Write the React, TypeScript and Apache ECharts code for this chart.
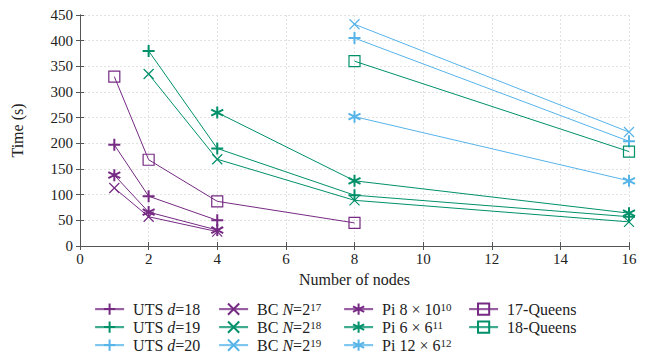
import React, { useEffect, useRef } from "react";
import * as echarts from "echarts";

const PURPLE = "#762a83";
const GREEN = "#00906a";
const BLUE = "#56b4e9";

const xTicks = [0, 2, 4, 6, 8, 10, 12, 14, 16];
const yTicks = [0, 50, 100, 150, 200, 250, 300, 350, 400, 450];

const utsD18Nodes = [1, 2, 4];
const utsD18Time = [197, 97, 50];
const utsD19Nodes = [2, 4, 8, 16];
const utsD19Time = [380, 190, 99, 57];
const utsD20Nodes = [8, 16];
const utsD20Time = [405, 204];

const bc17Nodes = [1, 2, 4];
const bc17Time = [113, 57, 28];
const bc18Nodes = [2, 4, 8, 16];
const bc18Time = [335, 169, 89, 47];
const bc19Nodes = [8, 16];
const bc19Time = [432, 222];

const pi8Nodes = [1, 2, 4];
const pi8Time = [138, 66, 31];
const pi6Nodes = [4, 8, 16];
const pi6Time = [260, 127, 64];
const pi12Nodes = [8, 16];
const pi12Time = [252, 127];

const q17Nodes = [1, 2, 4, 8];
const q17Time = [330, 168, 87, 45];
const q18Nodes = [8, 16];
const q18Time = [360, 184];

const PLUS = "path://M5,0L5,10M0,5L10,5";
const CROSS = "path://M0,0L10,10M0,10L10,0";
const STAR = "path://M5,0L5,10M0.67,2.5L9.33,7.5M0.67,7.5L9.33,2.5";
const SQUARE = "path://M0,0L10,0L10,10L0,10Z";

const FONT = "Liberation Serif";

const legendLabels: Record<string, string> = {
  "UTS d=18": "UTS {i|d}=18",
  "UTS d=19": "UTS {i|d}=19",
  "UTS d=20": "UTS {i|d}=20",
  "BC N=2^17": "BC {i|N}=2{sup|17}",
  "BC N=2^18": "BC {i|N}=2{sup|18}",
  "BC N=2^19": "BC {i|N}=2{sup|19}",
  "Pi 8x10^10": "Pi 8 × 10{sup|10}",
  "Pi 6x6^11": "Pi 6 × 6{sup|11}",
  "Pi 12x6^12": "Pi 12 × 6{sup|12}",
  "17-Queens": "17-Queens",
  "18-Queens": "18-Queens",
};

const legendColumns = [
  ["UTS d=18", "UTS d=19", "UTS d=20"],
  ["BC N=2^17", "BC N=2^18", "BC N=2^19"],
  ["Pi 8x10^10", "Pi 6x6^11", "Pi 12x6^12"],
  ["17-Queens", "18-Queens"],
];

function mk(name: string, nodes: number[], times: number[], color: string, symbol: string, size: number, bw: number) {
  return {
    name,
    type: "line",
    data: nodes.map((n, i) => [n, times[i]]),
    symbol,
    symbolSize: size,
    showAllSymbol: true,
    lineStyle: { color, width: 1 },
    itemStyle: { color: "none", borderColor: color, borderWidth: bw },
    emphasis: { disabled: true },
    z: 3,
  };
}

export default function App() {
  const ref = useRef<HTMLDivElement>(null);
  useEffect(() => {
    if (!ref.current) return;
    const chart = echarts.init(ref.current, null, { renderer: "svg" });
    const colLeft = [94, 218, 343, 468];
    const rowTop = [301, 319, 337];
    const legends: any[] = [];
    legendColumns.forEach((col, ci) => {
      col.forEach((name, ri) => {
        legends.push({
          orient: "horizontal",
          left: colLeft[ci],
          top: rowTop[ri],
          padding: 0,
          itemWidth: 29,
          itemHeight: 14,
          selectedMode: false,
          lineStyle: { width: 2.2, opacity: 0.75 },
          data: [name],
          formatter: (n: string) => legendLabels[n] ?? n,
          textStyle: {
            fontFamily: FONT,
            fontSize: 16,
            color: "#222",
            padding: [0, 0, 0, 4],
            rich: {
              i: { fontFamily: FONT, fontSize: 16, fontStyle: "italic", color: "#222" },
              sup: { fontFamily: FONT, fontSize: 11, color: "#222", verticalAlign: "top", lineHeight: 8 },
            },
          },
        });
      });
    });
    const axisLineStyle = { color: "#555", width: 1 };
    chart.setOption({
      animation: false,
      backgroundColor: "#fff",
      grid: { left: 80, right: 17, top: 15, bottom: 111, containLabel: false },
      legend: legends,
      xAxis: [
        {
          type: "value",
          min: 0,
          max: 16,
          interval: 2,
          name: "Number of nodes",
          nameLocation: "middle",
          nameGap: 25,
          nameTextStyle: { fontFamily: FONT, fontSize: 16, color: "#222" },
          axisLine: { show: true, lineStyle: axisLineStyle },
          axisTick: { show: true, inside: true, length: 4, lineStyle: axisLineStyle },
          axisLabel: { fontFamily: FONT, fontSize: 15, color: "#222", margin: 5 },
          splitLine: { show: true, lineStyle: { color: "#e2e2e2", type: [2, 2] } },
        },
        {
          type: "value",
          position: "top",
          min: 0,
          max: 16,
          interval: 2,
          axisLine: { show: true, lineStyle: axisLineStyle },
          axisTick: { show: true, inside: true, length: 4, lineStyle: axisLineStyle },
          axisLabel: { show: false },
          splitLine: { show: false },
        },
      ],
      yAxis: [
        {
          type: "value",
          min: 0,
          max: 450,
          interval: 50,
          name: "Time (s)",
          nameLocation: "middle",
          nameGap: 55,
          nameRotate: 90,
          nameTextStyle: { fontFamily: FONT, fontSize: 16, color: "#222" },
          axisLine: { show: true, lineStyle: axisLineStyle },
          axisTick: { show: true, inside: true, length: 4, lineStyle: axisLineStyle },
          axisLabel: { fontFamily: FONT, fontSize: 15, color: "#222", margin: 7 },
          splitLine: { show: true, lineStyle: { color: "#e2e2e2", type: [2, 2] } },
        },
        {
          type: "value",
          position: "right",
          min: 0,
          max: 450,
          interval: 50,
          axisLine: { show: true, lineStyle: axisLineStyle },
          axisTick: { show: true, inside: true, length: 4, lineStyle: axisLineStyle },
          axisLabel: { show: false },
          splitLine: { show: false },
        },
      ],
      series: [
        mk("UTS d=18", utsD18Nodes, utsD18Time, PURPLE, PLUS, 12, 2),
        mk("UTS d=19", utsD19Nodes, utsD19Time, GREEN, PLUS, 12, 2),
        mk("UTS d=20", utsD20Nodes, utsD20Time, BLUE, PLUS, 12, 2),
        mk("BC N=2^17", bc17Nodes, bc17Time, PURPLE, CROSS, 10, 1.2),
        mk("BC N=2^18", bc18Nodes, bc18Time, GREEN, CROSS, 10, 1.2),
        mk("BC N=2^19", bc19Nodes, bc19Time, BLUE, CROSS, 10, 1.2),
        mk("Pi 8x10^10", pi8Nodes, pi8Time, PURPLE, STAR, 12, 2),
        mk("Pi 6x6^11", pi6Nodes, pi6Time, GREEN, STAR, 12, 2),
        mk("Pi 12x6^12", pi12Nodes, pi12Time, BLUE, STAR, 12, 2),
        mk("17-Queens", q17Nodes, q17Time, PURPLE, SQUARE, 11, 1.2),
        mk("18-Queens", q18Nodes, q18Time, GREEN, SQUARE, 11, 1.2),
      ],
    });
    return () => chart.dispose();
  }, []);
  return <div ref={ref} style={{ width: 646, height: 357, position: "absolute", left: 0, top: 0 }} />;
}
